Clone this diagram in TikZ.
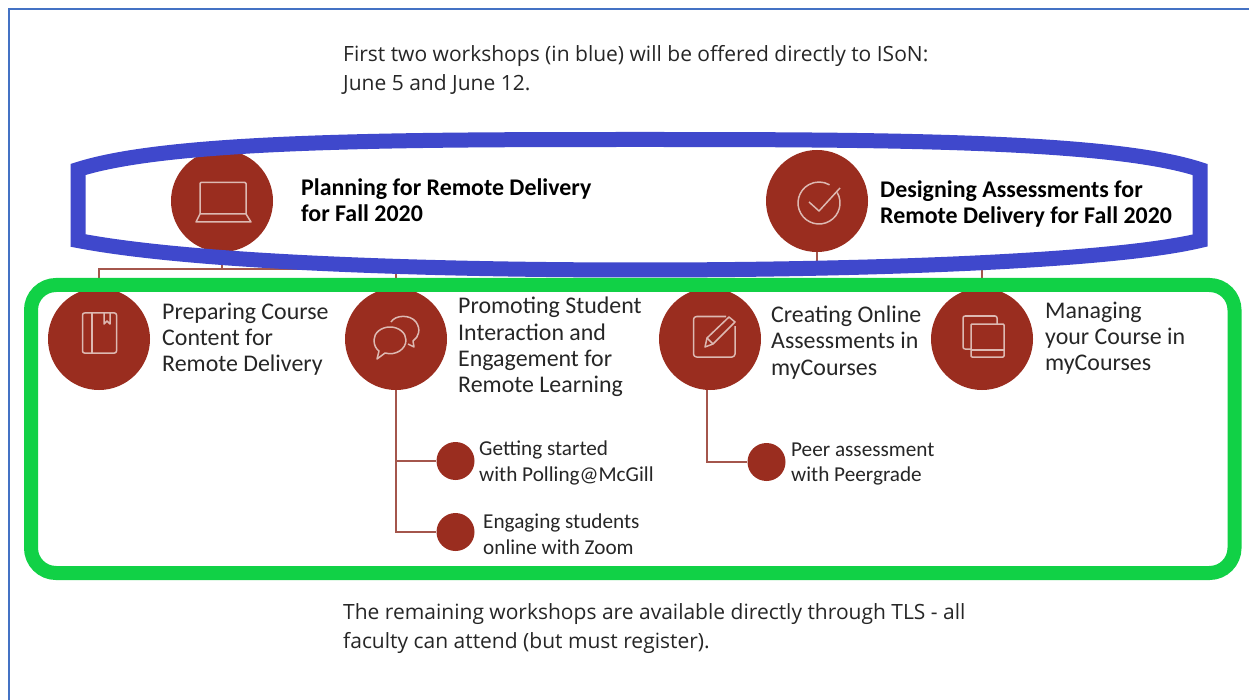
\documentclass[tikz,border=0pt]{standalone}
\usepackage{fontspec}
\setmainfont{Carlito}
\newfontfamily\headfont{Open Sans}
\definecolor{brick}{HTML}{9A2D1F}
\definecolor{linkc}{HTML}{A4564C}
\definecolor{iconc}{HTML}{DDB9B2}
\definecolor{bluering}{HTML}{3F48CC}
\definecolor{greenring}{HTML}{11D146}
\definecolor{pageedge}{HTML}{4472C4}
\definecolor{inkc}{HTML}{262626}
\tikzset{
 bigdot/.style={circle,fill=brick,draw=none,minimum size=102pt,inner sep=0pt},
 smalldot/.style={circle,fill=brick,draw=none,minimum size=38pt,inner sep=0pt},
 link/.style={draw=linkc,line width=1.4pt},
 icon/.style={draw=iconc,line width=1.5pt,line join=round},
 mainlabel/.style={anchor=west,align=left,inner sep=0pt,text=inkc,font=\fontsize{23.9}{26.2}\selectfont},
 boldlabel/.style={anchor=west,align=left,inner sep=0pt,text=black,font=\fontsize{23.9}{26.2}\selectfont\bfseries},
 sublabel/.style={anchor=west,align=left,inner sep=0pt,text=inkc,font=\fontsize{21.2}{25.5}\selectfont},
 headlabel/.style={anchor=west,align=left,inner sep=0pt,text=inkc,font=\headfont\fontsize{21}{29.3}\selectfont},
}
\begin{document}
\begin{tikzpicture}[x=1pt,y=-1pt]
\useasboundingbox (0,0) rectangle (1249,700);
\fill[white] (0,0) rectangle (1249,700);
\draw[pageedge,line width=1.6pt] (9,700) -- (9,9) -- (1249,9);

% circles
\node[bigdot] (plan) at (222,201) {};
\node[bigdot] (design) at (817,201) {};
\node[bigdot] (prep) at (99,339) {};
\node[bigdot] (prom) at (396,339) {};
\node[bigdot] (crea) at (710,339) {};
\node[bigdot] (mana) at (982,339) {};
\node[smalldot] (poll) at (455.5,461) {};
\node[smalldot] (zoom) at (455.5,532) {};
\node[smalldot] (peer) at (766.5,462) {};

% connectors
\coordinate (busL) at (prep.north |- 0,269);
\coordinate (busR) at (mana.north |- 0,269);
\coordinate (tapPoll) at (prom.south |- poll.west);
\coordinate (tapPeer) at ([xshift=-3pt]crea.south);
\draw[link] (prep.north) -- (busL) -- (busR) -- (mana.north);
\draw[link] (plan.south) -- (plan.south |- busL);
\draw[link] (design.south) -- (design.south |- busL);
\draw[link] (prom.north) -- (prom.north |- busL);
\draw[link] (prom.south) |- (zoom.west);
\draw[link] (tapPoll) -- (poll.west);
\draw[link] (tapPeer) |- (peer.west);

% rings
\draw[bluering,line width=15pt,line join=miter]
 (78,169.5) .. controls (170,140) and (400,139.5) .. (640,139.5)
 .. controls (880,139.5) and (1110,140) .. (1200,169.5)
 -- (1200,240.5)
 .. controls (1110,262) and (860,270) .. (640,270)
 .. controls (420,270) and (190,262) .. (78,240.5) -- cycle;
\draw[greenring,line width=14pt,rounded corners=25pt] (31,285) rectangle (1234.5,573);

% laptop
\draw[icon,rounded corners=1pt] (200,214) -- (200,182.5) -- (246,182.5) -- (246,214);
\draw[icon] (200,214) -- (246,214) -- (251,222) -- (196,222) -- cycle;
% check
\draw[icon] (837.2,192.5) arc[start angle=-30,end angle=300,radius=21];
\draw[icon] (809,202) -- (819,211) -- (840,188);
% book
\draw[icon,rounded corners=2pt] (82.5,313) rectangle (116.5,353);
\draw[icon] (92,313) -- (92,353);
\draw[icon] (104,313) -- (104,324) -- (107,321) -- (110,324) -- (110,313);
% chat
\draw[icon] (391,322) .. controls (395,315) and (410,314) .. (416,322)
 .. controls (421,329) and (419,337) .. (413,341) -- (414,347) -- (408,344) ;
\draw[icon] (390,327) .. controls (381,327) and (374,333) .. (374,340)
 .. controls (374,345) and (376,349) .. (379,351) -- (377,359) -- (385,353)
 .. controls (396,356) and (406,349) .. (406,340)
 .. controls (406,333) and (399,327) .. (390,327) -- cycle;
% note and pencil
\draw[icon,rounded corners=3pt] (726,316.5) -- (693.5,316.5) -- (693.5,357) -- (735,357) -- (735,326);
\draw[icon] (705,347) -- (707,338) -- (729,317) -- (735,322) -- (713,344) -- cycle;
\draw[icon] (707,338) -- (713,344);
% copies
\draw[icon,rounded corners=2pt] (971,349) -- (963,349) -- (963,316) -- (997,316) -- (997,324);
\draw[icon,rounded corners=1pt] (971,324) rectangle (1004,357);
\draw[icon] (971,350) -- (1004,350);

% labels
\node[headlabel] (headtop) at (343,70) {First two workshops (in blue) will be offered directly to ISoN:\\June 5 and June 12.};
\node[headlabel] (headbot) at (343,628.5) {The remaining workshops are available directly through TLS - all\\faculty can attend (but must register).};
\node[boldlabel] (tplan) at (301,200) {Planning for Remote Delivery\\for Fall 2020};
\node[boldlabel] (tdesign) at (880,204) {Designing Assessments for\\Remote Delivery for Fall 2020};
\node[mainlabel] (tprep) at (162,339.5) {Preparing Course\\Content for\\Remote Delivery};
\node[mainlabel] (tprom) at (458,347) {Promoting Student\\Interaction and\\Engagement for\\Remote Learning};
\node[mainlabel] (tcrea) at (771,342.5) {Creating Online\\Assessments in\\myCourses};
\node[mainlabel] (tmana) at (1045,338.5) {Managing\\your Course in\\myCourses};
\node[sublabel] (tpoll) at (479,463) {Getting started\\with Polling@McGill};
\node[sublabel] (tzoom) at (483,534) {Engaging students\\online with Zoom};
\node[sublabel] (tpeer) at (791,464) {Peer assessment\\with Peergrade};
\end{tikzpicture}
\end{document}
